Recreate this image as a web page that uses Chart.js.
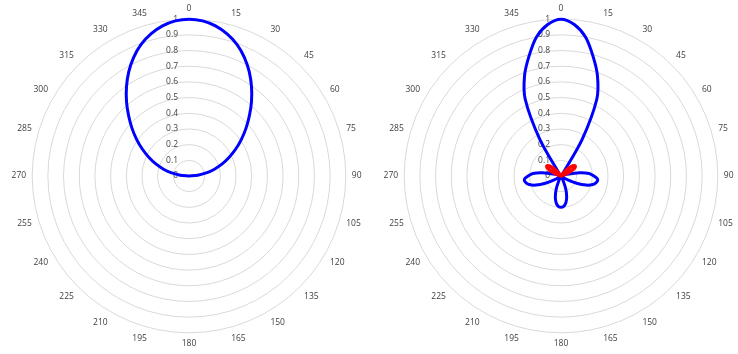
<!DOCTYPE html>
<html>
<head>
<meta charset="utf-8">
<script src="https://cdn.jsdelivr.net/npm/chart.js@4.4.1/dist/chart.umd.min.js"></script>
<style>
  html, body { margin: 0; padding: 0; background: #fff; overflow: hidden; }
  body { width: 738px; height: 354px; position: relative; }
  .plot { position: absolute; top: 0; }
  #leftPlot { left: 0; }
  #rightPlot { left: 372px; }
</style>
</head>
<body>
<div class="plot" id="leftPlot"><canvas id="chartLeft" width="374" height="352"></canvas></div>
<div class="plot" id="rightPlot"><canvas id="chartRight" width="374" height="352"></canvas></div>
<script>
// angles in degrees, every 5; only multiples of 15 get a label
const angles = [];
for (let a = 0; a < 360; a += 5) angles.push(a);
const angleLabels = angles.map(a => (a % 15 === 0 ? String(a) : ""));

// radial axis ticks
const tickValues = [0, 0.1, 0.2, 0.3, 0.4, 0.5, 0.6, 0.7, 0.8, 0.9, 1];
const tickLabels = ["0", "0.1", "0.2", "0.3", "0.4", "0.5", "0.6", "0.7", "0.8", "0.9", "1"];

// values, one row = 30 degrees (6 steps of 5)
const leftPattern = [
  1.00, 0.993, 0.972, 0.938, 0.893, 0.835,  // 0-25
  0.768, 0.695, 0.62, 0.545, 0.475, 0.408,  // 30-55
  0.344, 0.283, 0.225, 0.168, 0.112, 0.056, // 60-85
  0, 0, 0, 0, 0, 0,                         // 90-115
  0, 0, 0, 0, 0, 0,                         // 120-145
  0, 0, 0, 0, 0, 0,                         // 150-175
  0, 0, 0, 0, 0, 0,                         // 180-205
  0, 0, 0, 0, 0, 0,                         // 210-235
  0, 0, 0, 0, 0, 0,                         // 240-265
  0, 0.056, 0.112, 0.168, 0.225, 0.283,     // 270-295
  0.344, 0.408, 0.475, 0.545, 0.62, 0.695,  // 300-325
  0.768, 0.835, 0.893, 0.938, 0.972, 0.993  // 330-355
];

// right pattern, positive part (blue)
const rightPositive = [
  1.00, 0.97, 0.90, 0.79, 0.68, 0.54,       // 0-25
  0.27, 0.02, 0, 0, 0, 0,                   // 30-55
  0, 0, 0, 0.04, 0.12, 0.18,                // 60-85
  0.21, 0.235, 0.23, 0.21, 0.17, 0.11,      // 90-115
  0.05, 0.01, 0, 0, 0, 0,                   // 120-145
  0, 0.03, 0.09, 0.14, 0.175, 0.195,        // 150-175
  0.20, 0.195, 0.175, 0.14, 0.09, 0.03,     // 180-205
  0, 0, 0, 0, 0, 0.01,                      // 210-235
  0.05, 0.11, 0.17, 0.21, 0.23, 0.235,      // 240-265
  0.21, 0.18, 0.12, 0.04, 0, 0,             // 270-295
  0, 0, 0, 0, 0, 0.02,                      // 300-325
  0.27, 0.54, 0.68, 0.79, 0.90, 0.97        // 330-355
];

// right pattern, negative part magnitude (red)
const rightNegative = [
  0, 0, 0, 0, 0, 0,                         // 0-25
  0, 0, 0.03, 0.07, 0.10, 0.11,             // 30-55
  0.10, 0.06, 0.02, 0, 0, 0,                // 60-85
  0, 0, 0, 0, 0, 0,                         // 90-115
  0, 0, 0, 0, 0, 0,                         // 120-145
  0, 0, 0, 0, 0, 0,                         // 150-175
  0, 0, 0, 0, 0, 0,                         // 180-205
  0, 0, 0, 0, 0, 0,                         // 210-235
  0, 0, 0, 0, 0, 0,                         // 240-265
  0, 0, 0, 0, 0.02, 0.06,                   // 270-295
  0.10, 0.11, 0.10, 0.07, 0.03, 0,          // 300-325
  0, 0, 0, 0, 0, 0                          // 330-355
];

const FONT = "'Open Sans', 'Liberation Sans', sans-serif";
const TEXT_COLOR = "#404040";

// Excel-style value labels just left of the vertical axis
const tickLabelPlugin = {
  id: "tickLabels",
  beforeDatasetsDraw(chart) {
    const scale = chart.scales.r;
    const ctx = chart.ctx;
    ctx.save();
    ctx.font = "8.5px " + FONT;
    ctx.fillStyle = TEXT_COLOR;
    ctx.textAlign = "right";
    ctx.textBaseline = "middle";
    tickValues.forEach((v, i) => {
      const d = scale.getDistanceFromCenterForValue(v);
      ctx.fillText(tickLabels[i], scale.xCenter - 11, scale.yCenter - d);
    });
    ctx.restore();
  }
};

function lineSet(data, color, width, order) {
  return {
    data: data,
    borderColor: color,
    backgroundColor: color,
    borderWidth: width,
    fill: false,
    pointRadius: 0,
    pointHoverRadius: 0,
    tension: 0.3,
    borderJoinStyle: "round",
    borderCapStyle: "round",
    order: order
  };
}

function makeRadar(id, datasets) {
  const ctx = document.getElementById(id).getContext("2d");
  return new Chart(ctx, {
    type: "radar",
    data: { labels: angleLabels, datasets: datasets },
    options: {
      responsive: false,
      animation: false,
      layout: { padding: 3 },
      plugins: { legend: { display: false }, tooltip: { enabled: false } },
      scales: {
        r: {
          min: 0,
          max: 1,
          beginAtZero: true,
          ticks: { stepSize: 0.1, display: false },
          grid: { circular: true, color: "#d9d9d9", lineWidth: 1 },
          angleLines: { display: false },
          pointLabels: {
            display: true,
            padding: 6,
            color: TEXT_COLOR,
            font: { family: FONT, size: 8.5 }
          }
        }
      }
    },
    plugins: [tickLabelPlugin]
  });
}

makeRadar("chartLeft", [lineSet(leftPattern, "#0000ff", 3, 2)]);
makeRadar("chartRight", [
  lineSet(rightPositive, "#0000ff", 3, 2),
  lineSet(rightNegative, "#ff0000", 3.5, 1)
]);
</script>
</body>
</html>
